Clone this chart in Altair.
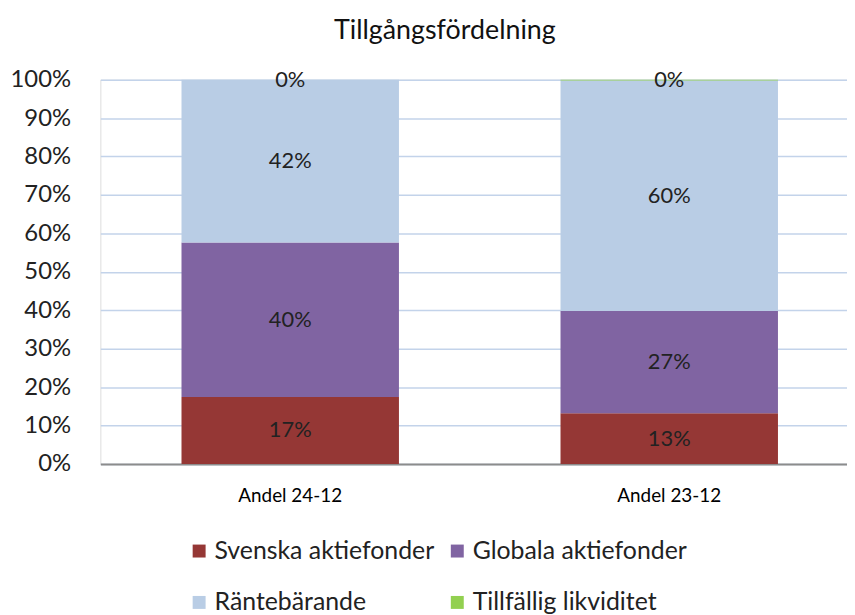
import altair as alt
import pandas as pd

categories = ["Andel 24-12", "Andel 23-12"]
series = ["Svenska aktiefonder", "Globala aktiefonder", "Räntebärande", "Tillfällig likviditet"]
colors = ["#953735", "#8064A2", "#B9CDE5", "#92D050"]
values_2412 = [0.174, 0.402, 0.424, 0.0]
values_2312 = [0.132, 0.266, 0.600, 0.002]
y_ticks = [0.0, 0.1, 0.2, 0.3, 0.4, 0.5, 0.6, 0.7, 0.8, 0.9, 1.0]

rows = []
for cat, vals in zip(categories, [values_2412, values_2312]):
    cum = 0.0
    for i, (s, v) in enumerate(zip(series, vals)):
        rows.append({"cat": cat, "series": s, "order": i, "value": v,
                     "y0": cum, "y1": cum + v, "mid": cum + v / 2})
        cum += v
df = pd.DataFrame(rows)

FONT = "Lato"

x_axis = alt.Axis(labelAngle=0, labelFontSize=19, labelPadding=23, ticks=False,
                  domainColor="#8C8C8C", domainWidth=2, labelColor="#000000",
                  labelFont=FONT)
y_axis = alt.Axis(format=".0%", values=y_ticks, tickCount=len(y_ticks), ticks=False,
                  domain=False, gridColor="#C3D3EA", gridWidth=1.5, labelOverlap=False,
                  labelFontSize=24, labelPadding=30, labelColor="#222222",
                  labelFont=FONT)
x_scale = alt.Scale(paddingInner=0.43, paddingOuter=0.2, align=0.54)
y_scale = alt.Scale(domain=[0, 1], nice=False)

base = alt.Chart(df)

bars = base.mark_bar(size=219).encode(
    x=alt.X("cat:N", sort=categories, title=None, scale=x_scale, axis=x_axis),
    y=alt.Y("y0:Q", title=None, scale=y_scale, axis=y_axis),
    y2="y1:Q",
    color=alt.Color("series:N", sort=series,
                    scale=alt.Scale(domain=series, range=colors),
                    legend=alt.Legend(title=None, orient="none", legendX=87, legendY=462,
                                      columns=2, direction="horizontal",
                                      symbolType="square", symbolSize=170,
                                      symbolStrokeWidth=0, labelFontSize=25, labelFont=FONT,
                                      labelColor="#222222", rowPadding=26, columnPadding=10,
                                      labelOffset=3, labelLimit=400)),
    order=alt.Order("order:Q"),
)

labels = base.mark_text(fontSize=22, font=FONT, color="#222222", baseline="middle").encode(
    x=alt.X("cat:N", sort=categories, title=None, scale=x_scale, axis=x_axis),
    y=alt.Y("mid:Q", title=None, scale=y_scale, axis=y_axis),
    text=alt.Text("value:Q", format=".0%"),
)

chart = alt.layer(bars, labels).properties(
    width=752, height=387,
    title=alt.TitleParams("Tillgångsfördelning", fontSize=27, font=FONT, fontWeight="normal",
                          color="#111111", offset=23, dx=-29),
).configure_view(stroke=None).configure(padding={"left": 2, "top": 7, "right": 0, "bottom": 0})

chart.save("out.html", embed_options={"renderer": "svg", "actions": False})
